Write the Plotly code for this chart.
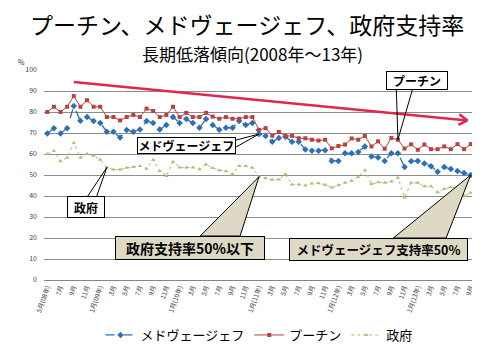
import plotly.graph_objects as go
import math

# ---------------- data ----------------
tick_labels = ["5月(08年)", "7月", "9月", "11月",
               "1月(09年)", "3月", "5月", "7月", "9月", "11月",
               "1月(10年)", "3月", "5月", "7月", "9月", "11月",
               "1月(11年)", "3月", "5月", "7月", "9月", "11月",
               "1月(12年)", "3月", "5月", "7月", "9月", "11月",
               "1月(13年)", "3月", "5月", "7月", "9月"]

medvedev = [69.8, 72.3, 69.8, 72.3, 82.9, 75.8, 77.6, 75.7, 74.8, 70.6, 70.6, 67.8,
            71.4, 70.6, 71.7, 75.7, 74.8, 71.7, 73.8, 77.6, 74.8, 76.7, 74.8, 72.5,
            76.7, 73.8, 71.6, 72.5, 72.5, 75.7, 73.8, 74.8,
            69.5, 68.6, 65.8, 67.6, 68.2, 65.8, 65.8, 62.2, 61.6, 61.6, 61.8, 56.7,
            56.7, 60.3, 60.4, 61.0, 63.6, 58.8, 58.3, 56.7, 60.4, 60.4, 53.8, 56.5,
            56.7, 55.5, 54.2, 51.6, 53.8, 52.8, 51.9, 51.0, 50.0]

putin = [80.0, 82.5, 80.0, 82.5, 87.6, 82.5, 85.6, 82.5, 82.5, 77.6, 77.6, 76.0,
         77.6, 78.6, 77.6, 81.6, 80.5, 77.6, 78.6, 82.5, 77.6, 79.6, 77.6, 77.6,
         79.6, 77.8, 76.8, 77.6, 76.8, 76.8, 77.6, 77.6,
         71.5, 72.3, 68.7, 70.5, 68.6, 68.6, 67.5, 67.5, 66.8, 66.4, 66.8, 62.7,
         63.8, 64.5, 67.4, 66.8, 68.6, 63.6, 66.0, 62.5, 67.6, 66.8, 62.6, 64.6,
         62.0, 64.5, 62.3, 62.3, 63.6, 62.3, 64.7, 62.3, 64.7]

government = [60.0, 61.6, 56.5, 58.2, 65.4, 58.2, 60.1, 59.2, 57.3, 53.6, 52.6, 52.6,
              53.5, 53.8, 54.3, 53.0, 57.3, 51.9, 49.5, 56.3, 53.6, 53.6, 53.6, 52.7,
              55.0, 53.3, 52.3, 51.9, 50.3, 54.3, 54.3, 53.5,
              49.2, 48.4, 47.7, 47.8, 50.3, 45.5, 45.5, 45.0, 46.0, 46.1, 45.4, 44.0,
              45.1, 46.3, 47.3, 49.1, 52.3, 45.7, 46.5, 46.3, 46.9, 48.7, 39.3, 46.3,
              46.3, 44.6, 44.6, 41.8, 43.3, 44.2, 44.0, 40.1, 41.5]

x_idx = list(range(len(putin)))
tick_vals = list(range(0, len(putin), 2))

# trend arrow (start / end in data units)
trend_start = (4.0, 94.3)
trend_end = (63.5, 76.0)

# ---------------- geometry helpers ----------------
W, H = 480, 360
ML, MR, MT, MB = 36, 12, 62, 88
PW, PH = W - ML - MR, H - MT - MB
XR = (-0.5, len(putin) - 0.5)
YR = (0, 100)

def fx(p):  # pixel -> paper x
    return (p - ML) / PW

def fy(p):  # pixel -> paper y
    return (MT + PH - p) / PH

def dx(p):  # pixel -> data x
    return XR[0] + (p - ML) / PW * (XR[1] - XR[0])

def dy(p):  # pixel -> data y
    return YR[0] + (MT + PH - p) / PH * (YR[1] - YR[0])

def px(x):
    return ML + (x - XR[0]) / (XR[1] - XR[0]) * PW

def py(y):
    return MT + PH - (y - YR[0]) / (YR[1] - YR[0]) * PH

FONT = "Noto Sans CJK JP"
BLUE = "#2C6FBA"
RED = "#B9413F"
GREEN = "#A8C275"
TREND = "#E2264F"
TAN = "#DDD9C4"

fig = go.Figure()
fig.add_trace(go.Scatter(x=x_idx, y=medvedev, name="メドヴェージェフ", mode="lines+markers",
                         line=dict(color=BLUE, width=1.3, dash="dash"),
                         marker=dict(symbol="diamond", size=5, color=BLUE)))
fig.add_trace(go.Scatter(x=x_idx, y=putin, name="プーチン", mode="lines+markers",
                         line=dict(color=RED, width=1),
                         marker=dict(symbol="square", size=4, color=RED)))
fig.add_trace(go.Scatter(x=x_idx, y=government, name="政府", mode="lines+markers",
                         line=dict(color=GREEN, width=1, dash="dot"),
                         marker=dict(symbol="triangle-up", size=4, color=GREEN)))

shapes = []
annotations = []

# trend line with open chevron head
shapes.append(dict(type="line", xref="x", yref="y", x0=trend_start[0], y0=trend_start[1],
                   x1=trend_end[0], y1=trend_end[1], line=dict(color=TREND, width=2.5), layer="above"))
tx, ty = px(trend_end[0]), py(trend_end[1])
sx, sy = px(trend_start[0]), py(trend_start[1])
ang = math.atan2(ty - sy, tx - sx)
for s in (1, -1):
    a = ang + math.pi + s * 0.55
    ex, ey = tx + 10 * math.cos(a), ty + 10 * math.sin(a)
    shapes.append(dict(type="line", xref="x", yref="y", x0=dx(ex), y0=dy(ey),
                       x1=trend_end[0], y1=trend_end[1], line=dict(color=TREND, width=2.5),
                       layer="above"))

def line_callout(text, box, tip, bases, fsize=12):
    for bx, by in bases:
        shapes.append(dict(type="line", xref="x", yref="y", x0=dx(bx), y0=dy(by),
                           x1=tip[0], y1=tip[1], line=dict(color="black", width=1), layer="above"))
    x0, y0, x1, y1 = box
    annotations.append(dict(xref="paper", yref="paper", x=fx((x0 + x1) / 2), y=fy((y0 + y1) / 2),
                            text="<b>" + text + "</b>", showarrow=False, xanchor="center", yanchor="middle",
                            width=x1 - x0 - 4, height=y1 - y0 - 4, borderpad=1,
                            bgcolor="white", bordercolor="black", borderwidth=1,
                            font=dict(family=FONT, size=fsize, color="black")))

def wedge_callout(text, box, tip, base, fsize=14):
    bx0, bx1, by = base
    path = "M {} {} L {} {} L {} {} Z".format(dx(bx0), dy(by), tip[0], tip[1], dx(bx1), dy(by))
    shapes.append(dict(type="path", xref="x", yref="y", path=path, fillcolor=TAN,
                       line=dict(color="black", width=1), layer="above"))
    x0, y0, x1, y1 = box
    annotations.append(dict(xref="paper", yref="paper", x=fx((x0 + x1) / 2), y=fy((y0 + y1) / 2),
                            text="<b>" + text + "</b>", showarrow=False, xanchor="center", yanchor="middle",
                            width=x1 - x0 - 4, height=y1 - y0 - 4, borderpad=1,
                            bgcolor=TAN, bordercolor="black", borderwidth=1,
                            font=dict(family=FONT, size=fsize, color="black")))

line_callout("メドヴェージェフ", (130, 129, 229, 146), (32, medvedev[32]),
             [(229, 132), (229, 139)], fsize=12)
line_callout("プーチン", (380, 63, 442, 82), (53, putin[53]),
             [(390, 82), (406, 82)], fsize=12)
line_callout("政府", (59, 188, 97, 210), (9, government[9]),
             [(80, 188), (89, 188)], fsize=12)
wedge_callout("政府支持率50%以下", (108, 228, 258, 252), (32, government[32]),
              (193, 233, 228), fsize=14)
wedge_callout("メドヴェージェフ支持率50%", (283, 230, 462, 253), (64, medvedev[64]),
              (387, 440, 230), fsize=12.5)

# titles
annotations.append(dict(xref="paper", yref="paper", x=fx(240), y=fy(16),
                        text="プーチン、メドヴェージェフ、政府支持率", showarrow=False,
                        xanchor="center", yanchor="middle",
                        font=dict(family=FONT, size=23, color="black")))
annotations.append(dict(xref="paper", yref="paper", x=fx(245), y=fy(45),
                        text="長期低落傾向(2008年～13年)", showarrow=False,
                        xanchor="center", yanchor="middle",
                        font=dict(family=FONT, size=17, color="black")))
annotations.append(dict(xref="paper", yref="paper", x=fx(13), y=fy(54),
                        text="%", showarrow=False, xanchor="center", yanchor="middle",
                        font=dict(family=FONT, size=7, color="#333333")))

fig.update_layout(
    width=W, height=H,
    margin=dict(l=ML, r=MR, t=MT, b=MB),
    paper_bgcolor="white", plot_bgcolor="white",
    showlegend=True,
    legend=dict(orientation="h", x=0.5, xanchor="center", y=fy(327), yanchor="middle",
                font=dict(family=FONT, size=13, color="black"), itemwidth=30,
                tracegroupgap=0, bgcolor="rgba(0,0,0,0)"),
    shapes=shapes, annotations=annotations,
    font=dict(family=FONT),
)
fig.update_xaxes(range=list(XR), tickvals=tick_vals, ticktext=tick_labels, tickangle=-70,
                 tickfont=dict(family=FONT, size=6.5, color="#404040"),
                 showgrid=False, zeroline=False, showline=True, linecolor="#868686", linewidth=1,
                 ticks="", fixedrange=True)
fig.update_yaxes(range=list(YR), dtick=10, tickfont=dict(family=FONT, size=7, color="#404040"),
                 showgrid=True, gridcolor="#8C8C8C", gridwidth=1, zeroline=False,
                 showline=False, ticks="", ticklabelstandoff=6, fixedrange=True)

fig.write_html("out.html")
